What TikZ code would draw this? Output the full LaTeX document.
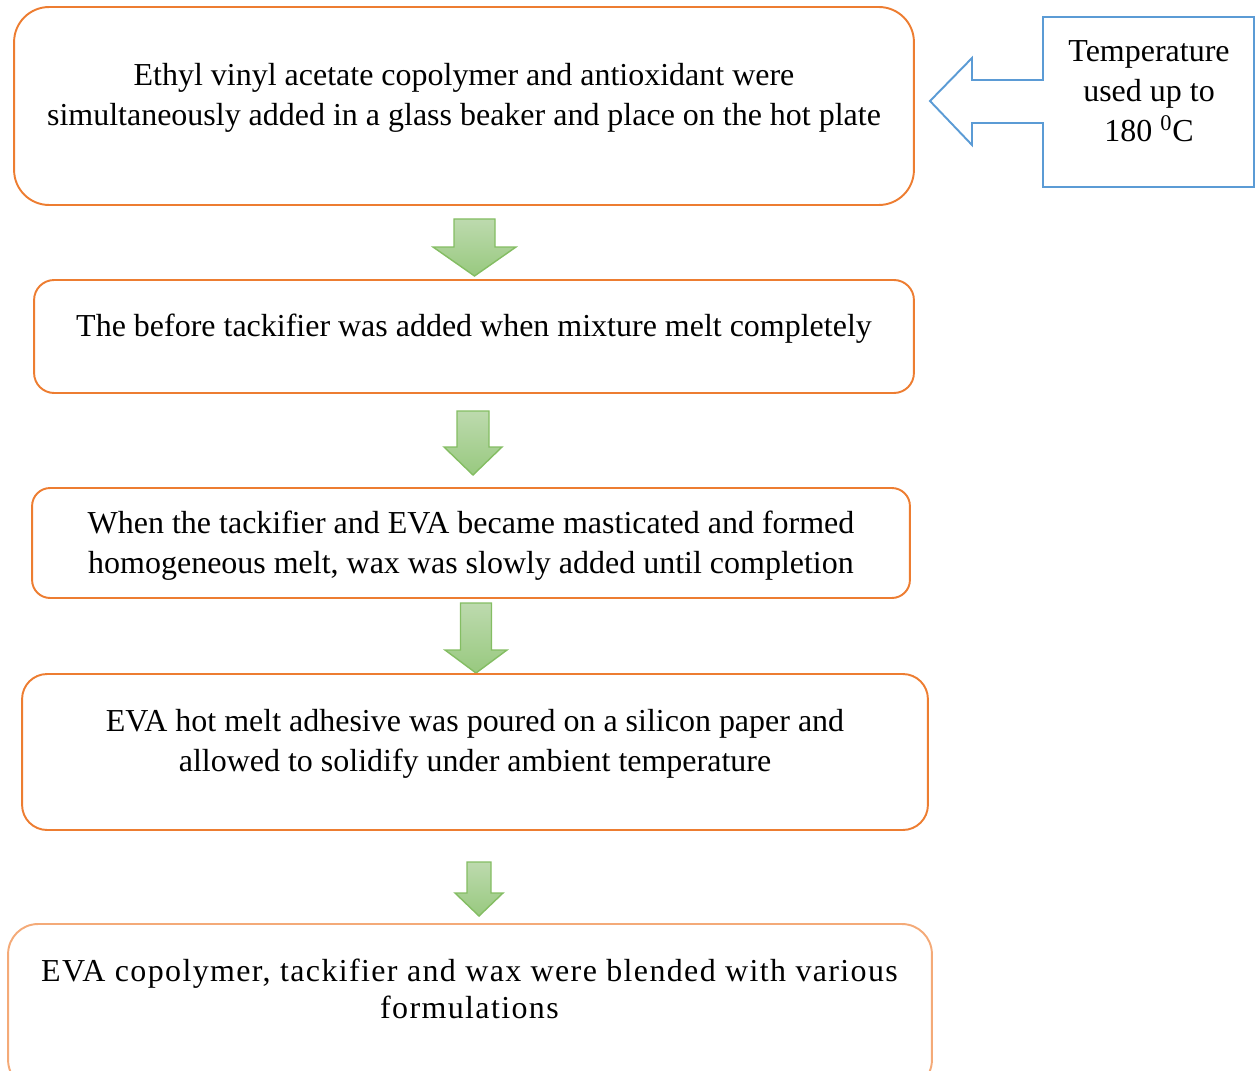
\documentclass[tikz,border=0pt]{standalone}
\usepackage{fontspec}
\setmainfont{Liberation Serif}
\definecolor{MyOrange}{HTML}{ED7D31}
\definecolor{MyPaleOrange}{HTML}{F4AA78}
\definecolor{MyBlue}{HTML}{5B9BD5}
\definecolor{MyGreen}{HTML}{84BD63}
\definecolor{MyGreenTop}{HTML}{BDDAAE}
\definecolor{MyGreenBottom}{HTML}{98C97F}

\begin{document}
\begin{tikzpicture}[x=0.02cm, y=-0.02cm,
    every node/.style={font=\fontsize{18.2}{22.7}\selectfont, align=center, inner sep=0pt},
    stepbox/.style={draw=MyOrange, line width=1.1pt},
    greenarrow/.style={draw=MyGreen, line width=0.8pt, top color=MyGreenTop, bottom color=MyGreenBottom}]
    \clip (0,0) rectangle (1257,1071);

    % green arrows between the steps
    \foreach \xa/\ya/\yb/\yc/\s/\h in {474.5/219/247/276/20.5/41.5, 473/411/447/475/16/29, 476/603/650/673/15.5/31, 479/862/893/916/12/24}{
    \draw[greenarrow] (\xa-\s,\ya) -- (\xa+\s,\ya) -- (\xa+\s,\yb) -- (\xa+\h,\yb) -- (\xa,\yc) -- (\xa-\h,\yb) -- (\xa-\s,\yb) -- cycle;}

    % steps
    \node[stepbox, minimum width=18cm, minimum height=3.96cm, rounded corners=0.7cm] (box1) at (464,106) {};
    \node (step1) at (464,98) {Ethyl vinyl acetate copolymer and antioxidant were\\simultaneously added in a glass beaker and place on the hot plate};

    \node[stepbox, minimum width=17.6cm, minimum height=2.26cm, rounded corners=0.4cm] (box2) at (474,336.5) {};
    \node (step2) at (474,329) {The before tackifier was added when mixture melt completely};

    \node[stepbox, minimum width=17.56cm, minimum height=2.2cm, rounded corners=0.36cm] (box3) at (471,543) {};
    \node (step3) at (471,546) {When the tackifier and EVA became masticated and formed\\homogeneous melt, wax was slowly added until completion};

    \node[stepbox, minimum width=18.12cm, minimum height=3.12cm, rounded corners=0.5cm] (box4) at (475,752) {};
    \node (step4) at (475,744) {EVA hot melt adhesive was poured on a silicon paper and\\allowed to solidify under ambient temperature};

    \node[stepbox, draw=MyPaleOrange, minimum width=18.48cm, minimum height=3.32cm, rounded corners=0.6cm] (box5) at (470,1007) {};
    \node[font=\fontsize{18.2}{21}\selectfont\addfontfeature{LetterSpace=4.3}] (step5) at (469.5,989) {EVA copolymer, tackifier and wax were blended with various\\formulations};

    % temperature box with its block arrow
    \draw[MyBlue, line width=1.1pt] (1043,17) -- (1254,17) -- (1254,187) -- (1043,187) -- (1043,123) -- (972,123) -- (972,145) -- (930,101) -- (972,58) -- (972,80) -- (1043,80) -- cycle;
    \node (temp) at (1149,91) {Temperature\\used up to\\180 \textsuperscript{0}C};
\end{tikzpicture}
\end{document}
